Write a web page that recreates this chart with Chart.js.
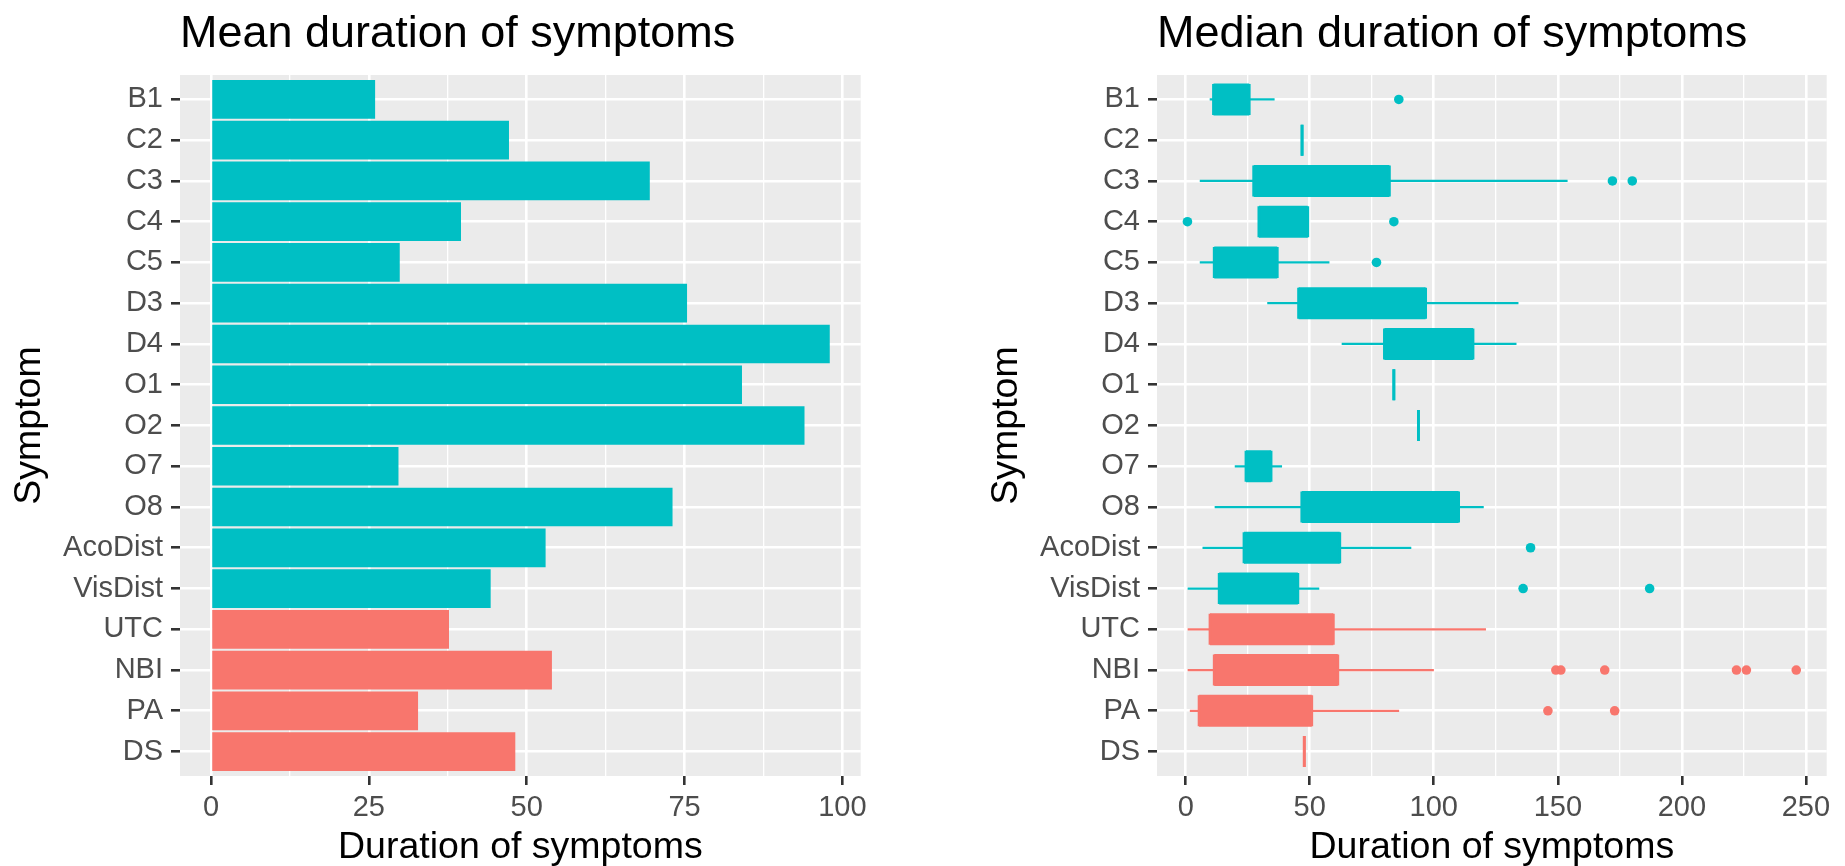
<!DOCTYPE html>
<html>
<head>
<meta charset="utf-8">
<script src="https://cdn.jsdelivr.net/npm/chart.js@4/dist/chart.umd.min.js"></script>
<style>
  html, body { margin: 0; padding: 0; background: #ffffff; width: 1845px; height: 866px; overflow: hidden; }
  #meanChart { position: absolute; left: 0; top: 0; }
  #medianChart { position: absolute; left: 910px; top: 0; }
</style>
</head>
<body>
<canvas id="meanChart" width="910" height="866"></canvas>
<canvas id="medianChart" width="935" height="866"></canvas>
<script>
// ---------------- data ----------------
const categories = ['B1','C2','C3','C4','C5','D3','D4','O1','O2','O7','O8','AcoDist','VisDist','UTC','NBI','PA','DS'];
const categoryGroup = ['G2','G2','G2','G2','G2','G2','G2','G2','G2','G2','G2','G2','G2','G1','G1','G1','G1'];

// left panel: mean duration
const meanDuration = [26.0, 47.2, 69.5, 39.6, 29.9, 75.4, 98.0, 84.1, 94.0, 29.7, 73.1, 53.0, 44.3, 37.7, 54.0, 32.8, 48.2];

// right panel: box plot statistics
const boxLow      = [11.2, 46.9, 27.4, 29.5, 11.5, 45.5, 80.1, 83.9, 93.8, 24.3, 46.8, 23.5, 13.5,  9.8, 11.5,  5.4, 47.8];
const boxHigh     = [25.6, 46.9, 82.1, 49.2, 36.9, 96.7,115.8, 83.9, 93.8, 34.4,110.0, 62.1, 45.2, 59.5, 61.3, 50.8, 47.8];
const whiskerLow  = [ 9.8, 46.9,  5.8, 29.5,  5.8, 33.0, 63.0, 83.9, 93.8, 19.9, 11.8,  6.9,  0.9,  0.9,  0.9,  1.8, 47.8];
const whiskerHigh = [35.7, 46.9,153.8, 49.2, 57.8,134.0,133.2, 83.9, 93.8, 38.7,120.0, 90.8, 53.7,120.9, 99.9, 85.9, 47.8];
const outlierSymptom = ['B1','C3','C3','C4','C4','C5','AcoDist','VisDist','VisDist','NBI','NBI','NBI','NBI','NBI','NBI','PA','PA'];
const outlierValue   = [85.9, 172.0, 180.0, 0.7, 83.9, 76.9, 139.0, 136.0, 187.0, 149.2, 151.2, 168.9, 222.0, 226.0, 246.1, 146.0, 172.9];

// tick labels
const meanTicks = [0, 25, 50, 75, 100];
const medianTicks = [0, 50, 100, 150, 200, 250];

// ---------------- styles ----------------
const groupColors = { G1: '#F8766D', G2: '#00BFC4' };
const FONT = "'Liberation Sans', Arial, Helvetica, sans-serif";
const colorOf = i => groupColors[categoryGroup[i]];

function expand(lo, hi) { const d = (hi - lo) * 0.05; return [lo - d, hi + d]; }

const panelBackground = {
  id: 'panelBackground',
  beforeDraw(chart) {
    const { ctx, chartArea: a } = chart;
    ctx.save();
    ctx.fillStyle = '#EBEBEB';
    ctx.fillRect(a.left, a.top, a.right - a.left, a.bottom - a.top);
    ctx.restore();
  }
};

function xScaleConfig(range, majors) {
  const minors = majors.slice(1).map((v, i) => (v + majors[i]) / 2);
  const all = majors.concat(minors).filter(v => v >= range[0] && v <= range[1]).sort((a, b) => a - b);
  const isMajor = v => majors.indexOf(v) >= 0;
  return {
    type: 'linear', position: 'bottom', min: range[0], max: range[1], bounds: 'data', offset: false,
    afterBuildTicks: s => { s.ticks = all.map(v => ({ value: v })); },
    afterFit: s => { s.height = 90; },
    border: { display: false },
    grid: {
      offset: false,
      color: '#FFFFFF',
      lineWidth: c => (c.tick && !isMajor(c.tick.value)) ? 1.3 : 2.6,
      tickColor: c => (c.tick && !isMajor(c.tick.value)) ? 'rgba(0,0,0,0)' : '#333333',
      tickWidth: 2.6, tickLength: 9, drawTicks: true
    },
    ticks: {
      callback: v => isMajor(v) ? String(v) : '',
      color: '#4D4D4D', font: { family: FONT, size: 29 }, padding: 6,
      maxRotation: 0, minRotation: 0, autoSkip: false
    },
    title: {
      display: true, text: 'Duration of symptoms', color: '#000000',
      font: { family: FONT, size: 37.5, lineHeight: 1 }, padding: { top: 0, bottom: 0 }
    }
  };
}

function yScaleConfig(width, titlePad) {
  return {
    type: 'linear', position: 'left', reverse: true, offset: false,
    min: -0.6, max: categories.length - 1 + 0.6, bounds: 'data',
    afterBuildTicks: s => { s.ticks = categories.map((c, i) => ({ value: i })); },
    afterFit: s => { s.width = width; },
    border: { display: false },
    grid: { offset: false, color: '#FFFFFF', lineWidth: 2.6, tickColor: '#333333', tickWidth: 2.6, tickLength: 9, drawTicks: true },
    ticks: {
      callback: v => categories[v],
      color: '#4D4D4D', font: { family: FONT, size: 29 }, padding: 8, autoSkip: false
    },
    title: {
      display: true, text: 'Symptom', color: '#000000',
      font: { family: FONT, size: 37.5, lineHeight: 1 }, padding: { top: titlePad, bottom: 0 }
    }
  };
}

function titleConfig(text) {
  return {
    display: true, text: text, align: 'start', fullSize: false, color: '#000000',
    font: { family: FONT, size: 45, weight: 'normal', lineHeight: 1.2 },
    padding: { top: 7.2, bottom: 13.8 }
  };
}

const common = {
  responsive: false, animation: false, devicePixelRatio: 1, events: [],
  indexAxis: 'y'
};

// ---------------- left chart: means ----------------
const meanRange = expand(Math.min(0, ...meanDuration), Math.max(...meanDuration));
new Chart(document.getElementById('meanChart'), {
  type: 'bar',
  data: {
    datasets: [{
      type: 'bar', indexAxis: 'y',
      data: categories.map((c, i) => ({ x: meanDuration[i], y: i })),
      backgroundColor: categories.map((c, i) => colorOf(i)),
      borderWidth: 0, categoryPercentage: 1, barPercentage: 0.95
    }]
  },
  options: Object.assign({}, common, {
    layout: { padding: { left: 0, top: 0, right: 49.3, bottom: 0 } },
    scales: { x: xScaleConfig(meanRange, meanTicks), y: yScaleConfig(180, 11.4) },
    plugins: { legend: { display: false }, tooltip: { enabled: false }, title: titleConfig('Mean duration of symptoms') }
  }),
  plugins: [panelBackground]
});

// ---------------- right chart: box plots ----------------
const medRange = expand(Math.min(...whiskerLow, ...outlierValue), Math.max(...whiskerHigh, ...outlierValue));
const edgePoints = [];
categories.forEach((c, i) => { edgePoints.push({ x: boxLow[i], y: i }); edgePoints.push({ x: boxHigh[i], y: i }); });
const outlierPoints = outlierSymptom.map((s, k) => ({ x: outlierValue[k], y: categories.indexOf(s) }));

new Chart(document.getElementById('medianChart'), {
  type: 'bar',
  data: {
    datasets: [
      {
        type: 'scatter', order: 0,
        data: outlierPoints,
        pointStyle: 'circle', pointRadius: 4.8, pointBorderWidth: 0,
        backgroundColor: outlierPoints.map(p => colorOf(p.y)),
        borderColor: outlierPoints.map(p => colorOf(p.y))
      },
      {
        type: 'scatter', order: 1,
        data: edgePoints,
        pointStyle: 'line', pointRotation: 90, pointRadius: 15.5, pointBorderWidth: 2.8,
        borderColor: edgePoints.map(p => colorOf(p.y)),
        backgroundColor: edgePoints.map(p => colorOf(p.y))
      },
      {
        type: 'bar', indexAxis: 'y', order: 2, grouped: false,
        data: categories.map((c, i) => ({ x: [boxLow[i], boxHigh[i]], y: i })),
        backgroundColor: categories.map((c, i) => colorOf(i)),
        borderWidth: 0, categoryPercentage: 1, barPercentage: 0.785
      },
      {
        type: 'bar', indexAxis: 'y', order: 3, grouped: false,
        data: categories.map((c, i) => ({ x: [whiskerLow[i], whiskerHigh[i]], y: i })),
        backgroundColor: categories.map((c, i) => colorOf(i)),
        borderWidth: 0, categoryPercentage: 1, barPercentage: 1, maxBarThickness: 1.6
      }
    ]
  },
  options: Object.assign({}, common, {
    layout: { padding: { left: 0, top: 0, right: 7.3, bottom: 0 } },
    scales: { x: xScaleConfig(medRange, medianTicks), y: yScaleConfig(247, 78) },
    plugins: { legend: { display: false }, tooltip: { enabled: false }, title: titleConfig('Median duration of symptoms') }
  }),
  plugins: [panelBackground]
});
</script>
</body>
</html>
